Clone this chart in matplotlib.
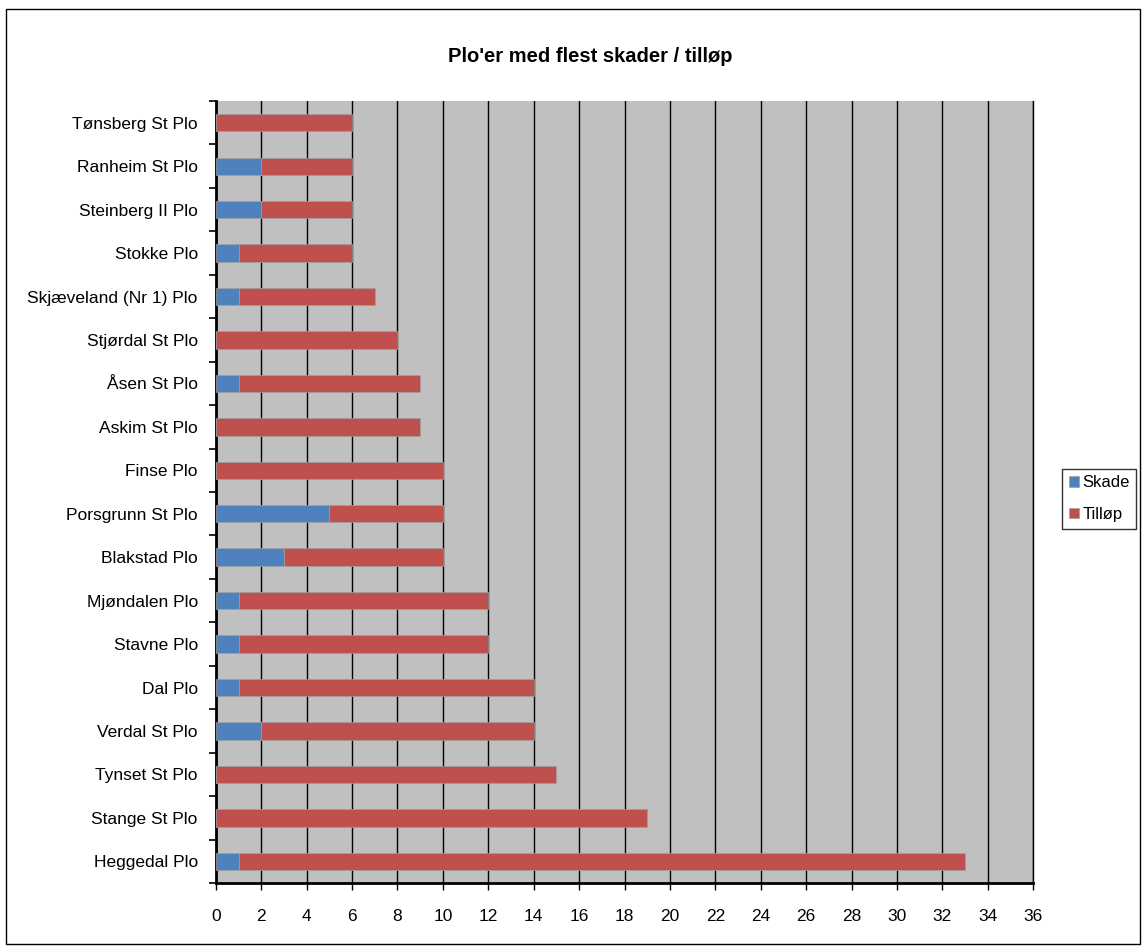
import matplotlib.pyplot as plt
from matplotlib.patches import Rectangle
import numpy as np

plt.rcParams['font.family'] = ['Liberation Sans', 'DejaVu Sans']

# categories listed bottom to top
stations = ['Heggedal Plo', 'Stange St Plo', 'Tynset St Plo', 'Verdal St Plo', 'Dal Plo',
            'Stavne Plo', 'Mjøndalen Plo', 'Blakstad Plo', 'Porsgrunn St Plo', 'Finse Plo',
            'Askim St Plo', 'Åsen St Plo', 'Stjørdal St Plo', 'Skjæveland (Nr 1) Plo',
            'Stokke Plo', 'Steinberg II Plo', 'Ranheim St Plo', 'Tønsberg St Plo']
skade = [1, 0, 0, 2, 1, 1, 1, 3, 5, 0, 0, 1, 0, 1, 1, 2, 2, 0]
tillop = [32, 19, 15, 12, 13, 11, 11, 7, 5, 10, 9, 8, 8, 6, 5, 4, 4, 6]
xticks = list(range(0, 37, 2))

fig = plt.figure(figsize=(11.42, 9.46), dpi=100)
ax = fig.add_axes([0.189, 0.0666, 0.7157, 0.8266])
ax.set_facecolor('#C0C0C0')

y = np.arange(len(stations))
ax.barh(y, skade, height=0.4, color='#4F81BD', edgecolor='#A0A0A0', linewidth=0.5, label='Skade', zorder=3)
ax.barh(y, tillop, left=skade, height=0.4, color='#C0504D', edgecolor='#A0A0A0', linewidth=0.5, label='Tilløp', zorder=3)

ax.set_xlim(0, 36)
ax.set_ylim(-0.5, len(stations) - 0.5)
ax.set_xticks(xticks)
ax.set_yticks(y)
ax.set_yticklabels(stations)
ax.set_yticks(np.arange(-0.5, len(stations), 1), minor=True)
ax.tick_params(axis='y', which='major', length=0, pad=13, labelsize=12.5)
ax.tick_params(axis='y', which='minor', length=5, width=1.2, direction='out')
ax.tick_params(axis='x', length=5, width=1, direction='out', pad=14, labelsize=12.5)
ax.xaxis.grid(True, color='black', linewidth=1, zorder=1)
ax.set_axisbelow(True)

ax.spines['top'].set_visible(False)
ax.spines['right'].set_linewidth(1)
ax.spines['left'].set_linewidth(2)
ax.spines['bottom'].set_linewidth(2)

fig.text(0.517, 0.940, "Plo'er med flest skader / tilløp", ha='center', va='center',
         fontsize=14.5, fontweight='bold')

leg = ax.legend(loc='center left', bbox_to_anchor=(1.0355, 0.4915), frameon=True, fancybox=False,
                edgecolor='black', handlelength=0.6, handleheight=0.6, handletextpad=0.2,
                fontsize=12, labelspacing=1.0, borderpad=0.4, borderaxespad=0)
leg.get_frame().set_linewidth(1)

fig.patches.append(Rectangle((6 / 1142, 2 / 946), 1134 / 1142, 935 / 946, transform=fig.transFigure,
                             fill=False, edgecolor='black', linewidth=1))

fig.savefig('out.png', dpi=100)
